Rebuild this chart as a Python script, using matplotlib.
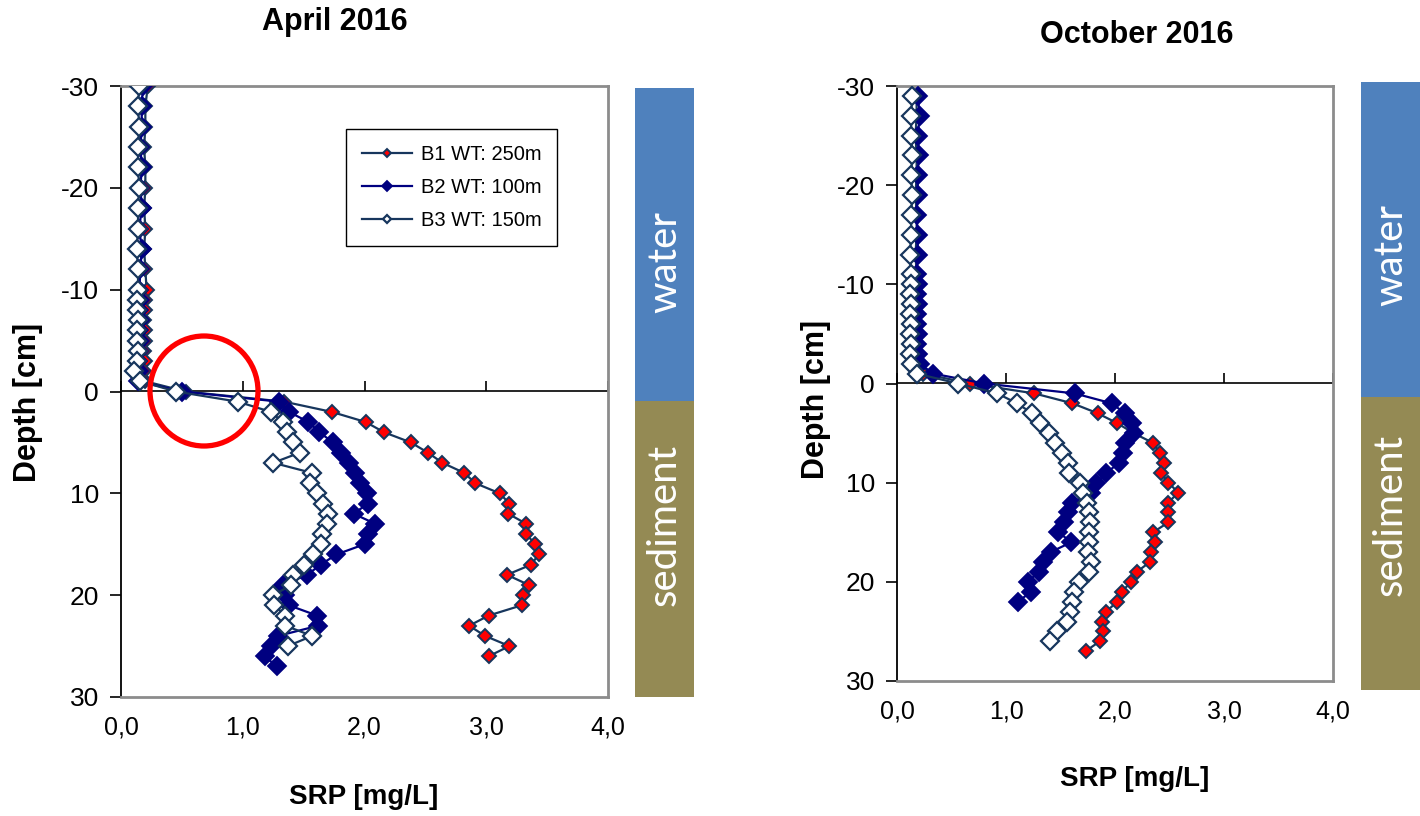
import matplotlib
matplotlib.use("Agg")
import matplotlib.pyplot as plt
from matplotlib.patches import Rectangle, Ellipse

plt.rcParams['font.family'] = ['Liberation Sans', 'DejaVu Sans']

# ---------------- data ----------------
series_labels = ["B1 WT: 250m", "B2 WT: 100m", "B3 WT: 150m"]
x_ticks = [0.0, 1.0, 2.0, 3.0, 4.0]
x_tick_labels = ["0,0", "1,0", "2,0", "3,0", "4,0"]
y_ticks = [-30, -20, -10, 0, 10, 20, 30]
y_tick_labels = ["-30", "-20", "-10", "0", "10", "20", "30"]

# April 2016
apr_depth_water = [-30, -28, -26, -24, -22, -20, -18, -16, -14, -12,
                   -10, -9, -8, -7, -6, -5, -4, -3, -2, -1]
apr_b1_water = [0.22, 0.20, 0.20, 0.19, 0.20, 0.20, 0.19, 0.20, 0.19, 0.20,
                0.21, 0.20, 0.20, 0.19, 0.20, 0.20, 0.19, 0.20, 0.19, 0.20]
apr_b2_water = [0.18, 0.17, 0.17, 0.16, 0.17, 0.16, 0.17, 0.15, 0.17, 0.16,
                0.15, 0.16, 0.15, 0.16, 0.15, 0.16, 0.15, 0.14, 0.15, 0.14]
apr_b3_water = [0.15, 0.14, 0.15, 0.14, 0.14, 0.15, 0.14, 0.14, 0.13, 0.14,
                0.14, 0.13, 0.13, 0.14, 0.13, 0.13, 0.14, 0.13, 0.11, 0.16]
apr_b1_sed = [0.53, 1.34, 1.73, 2.01, 2.16, 2.38, 2.52, 2.64, 2.82, 2.91,
              3.11, 3.19, 3.18, 3.33, 3.33, 3.40, 3.43, 3.37, 3.17, 3.35,
              3.30, 3.29, 3.02, 2.86, 2.99, 3.19, 3.02]
apr_b2_sed = [0.50, 1.30, 1.38, 1.54, 1.63, 1.74, 1.81, 1.87, 1.92, 1.96,
              2.02, 2.03, 1.91, 2.09, 2.03, 2.00, 1.77, 1.64, 1.53, 1.33,
              1.35, 1.38, 1.61, 1.62, 1.29, 1.23, 1.18, 1.28]
apr_b3_sed = [0.45, 0.96, 1.23, 1.33, 1.36, 1.41, 1.47, 1.25, 1.57, 1.55,
              1.61, 1.66, 1.70, 1.69, 1.65, 1.64, 1.58, 1.50, 1.41, 1.40,
              1.25, 1.26, 1.35, 1.35, 1.57, 1.37]

# October 2016
oct_depth_water = [-29, -27, -25, -23, -21, -19, -17, -15, -13, -11,
                   -10, -9, -8, -7, -6, -5, -4, -3, -2, -1]
oct_b1_water = [0.18, 0.18, 0.17, 0.18, 0.18, 0.17, 0.18, 0.18, 0.17, 0.18,
                0.18, 0.17, 0.18, 0.18, 0.17, 0.18, 0.18, 0.18, 0.20, 0.24]
oct_b2_water = [0.19, 0.21, 0.19, 0.20, 0.19, 0.19, 0.18, 0.19, 0.19, 0.18,
                0.19, 0.18, 0.19, 0.18, 0.18, 0.19, 0.18, 0.19, 0.21, 0.33]
oct_b3_water = [0.14, 0.13, 0.13, 0.14, 0.13, 0.14, 0.13, 0.13, 0.12, 0.13,
                0.13, 0.12, 0.13, 0.12, 0.13, 0.12, 0.13, 0.12, 0.13, 0.18]
oct_b1_sed = [0.67, 1.26, 1.61, 1.84, 2.02, 2.17, 2.35, 2.41, 2.45, 2.42,
              2.49, 2.58, 2.49, 2.49, 2.49, 2.35, 2.37, 2.33, 2.32, 2.20,
              2.15, 2.06, 2.02, 1.92, 1.88, 1.89, 1.86, 1.73]
oct_b2_sed = [0.80, 1.63, 1.97, 2.09, 2.16, 2.17, 2.09, 2.07, 2.04, 1.92,
              1.83, 1.78, 1.61, 1.57, 1.53, 1.48, 1.60, 1.41, 1.34, 1.30,
              1.20, 1.23, 1.11]
oct_b3_sed = [0.56, 0.92, 1.10, 1.24, 1.31, 1.39, 1.45, 1.51, 1.57, 1.58,
              1.68, 1.71, 1.74, 1.76, 1.77, 1.76, 1.76, 1.75, 1.78, 1.76,
              1.67, 1.62, 1.61, 1.59, 1.56, 1.47, 1.40]

# ---------------- styles ----------------
DARK = '#17365D'
NAVY = '#000080'
styles = [
    dict(color=DARK, marker='D', markersize=7.4, markerfacecolor='#FF0000',
         markeredgecolor=DARK, markeredgewidth=1.4, linewidth=1.6),
    dict(color=NAVY, marker='D', markersize=9.0, markerfacecolor=NAVY,
         markeredgecolor=NAVY, markeredgewidth=1.3, linewidth=1.6),
    dict(color=DARK, marker='D', markersize=8.8, markerfacecolor='white',
         markeredgecolor=DARK, markeredgewidth=1.6, linewidth=1.6),
]

W, H = 1420, 816
fig = plt.figure(figsize=(W / 100, H / 100), dpi=100)


def fx(px):
    return px / W


def fy(py):
    return 1 - py / H


def panel(rect, depth_water, water_vals, sed_vals):
    ax = fig.add_axes(rect)
    for vals_w, vals_s, st, lab in zip(water_vals, sed_vals, styles, series_labels):
        depths = list(depth_water) + list(range(len(vals_s)))
        ax.plot(list(vals_w) + list(vals_s), depths, label=lab, zorder=3, **st)
    ax.set_xlim(0, 4)
    ax.set_ylim(30, -30)
    ax.set_xticks(x_ticks)
    ax.set_xticklabels(x_tick_labels)
    ax.set_yticks(y_ticks)
    ax.set_yticklabels(y_tick_labels)
    ax.tick_params(axis='x', length=0, pad=13, labelsize=18)
    ax.tick_params(axis='y', direction='out', length=8, width=1.2, pad=8,
                   labelsize=19)
    for s in ('top', 'right', 'bottom'):
        ax.spines[s].set_color('#8C8C8C')
        ax.spines[s].set_linewidth(2.0)
    ax.spines['left'].set_color('black')
    ax.spines['left'].set_linewidth(1.3)
    # horizontal axis line at the sediment surface with upward tick marks
    sec = ax.secondary_xaxis(0.5)
    sec.set_xticks(x_ticks)
    sec.tick_params(axis='x', direction='out', length=7, width=1.2,
                    labeltop=False, labelbottom=False)
    for s in sec.spines.values():
        s.set_color('black')
        s.set_linewidth(1.2)
    return ax


ax1 = panel([fx(121), fy(697), fx(608 - 121), (697 - 86) / H],
            apr_depth_water,
            [apr_b1_water, apr_b2_water, apr_b3_water],
            [apr_b1_sed, apr_b2_sed, apr_b3_sed])
ax2 = panel([fx(897), fy(681), fx(1333 - 897), (681 - 86) / H],
            oct_depth_water,
            [oct_b1_water, oct_b2_water, oct_b3_water],
            [oct_b1_sed, oct_b2_sed, oct_b3_sed])

leg = ax1.legend(loc='upper left', bbox_to_anchor=(0.462, 0.93),
                 fontsize=14.5, frameon=True, fancybox=False,
                 edgecolor='black', framealpha=1, markerscale=0.52,
                 handlelength=2.5, labelspacing=0.7, borderpad=0.8,
                 handletextpad=0.4, borderaxespad=0)
leg.get_frame().set_linewidth(1.0)

# titles and axis labels
fig.text(fx(335), fy(22), "April 2016", ha='center', va='center',
         fontsize=22, fontweight='bold')
fig.text(fx(1137), fy(35), "October 2016", ha='center', va='center',
         fontsize=22, fontweight='bold')
fig.text(fx(364), fy(797), "SRP [mg/L]", ha='center', va='center',
         fontsize=20, fontweight='bold')
fig.text(fx(1135), fy(779), "SRP [mg/L]", ha='center', va='center',
         fontsize=20, fontweight='bold')
fig.text(fx(28), fy(402), "Depth [cm]", ha='center', va='center',
         rotation=90, fontsize=22, fontweight='bold')
fig.text(fx(816), fy(399), "Depth [cm]", ha='center', va='center',
         rotation=90, fontsize=22, fontweight='bold')

# water / sediment bars
BLUE = '#4F81BD'
OLIVE = '#948A54'
bars = [(635, 88, 401, 697, 262, 525), (1361, 82, 397, 690, 255, 515)]
for x0, top, mid, bot, y_water, y_sed in bars:
    fig.add_artist(Rectangle((fx(x0), fy(mid)), fx(59), (mid - top) / H,
                             transform=fig.transFigure, facecolor=BLUE,
                             edgecolor='none'))
    fig.add_artist(Rectangle((fx(x0), fy(bot)), fx(59), (bot - mid) / H,
                             transform=fig.transFigure, facecolor=OLIVE,
                             edgecolor='none'))
    fig.text(fx(x0 + 29.5), fy(y_water), "water", rotation=90,
             ha='center', va='center', color='white', fontsize=29,
             family=['Lato', 'DejaVu Sans'])
    fig.text(fx(x0 + 29.5), fy(y_sed), "sediment", rotation=90,
             ha='center', va='center', color='white', fontsize=29,
             family=['Lato', 'DejaVu Sans'])

# highlight ring around the sediment-water interface
fig.add_artist(Ellipse((fx(204), fy(391)), fx(108), 110 / H,
                       transform=fig.transFigure, facecolor='none',
                       edgecolor='#FF0000', linewidth=3.8, zorder=10))

fig.savefig("out.png", dpi=100)
